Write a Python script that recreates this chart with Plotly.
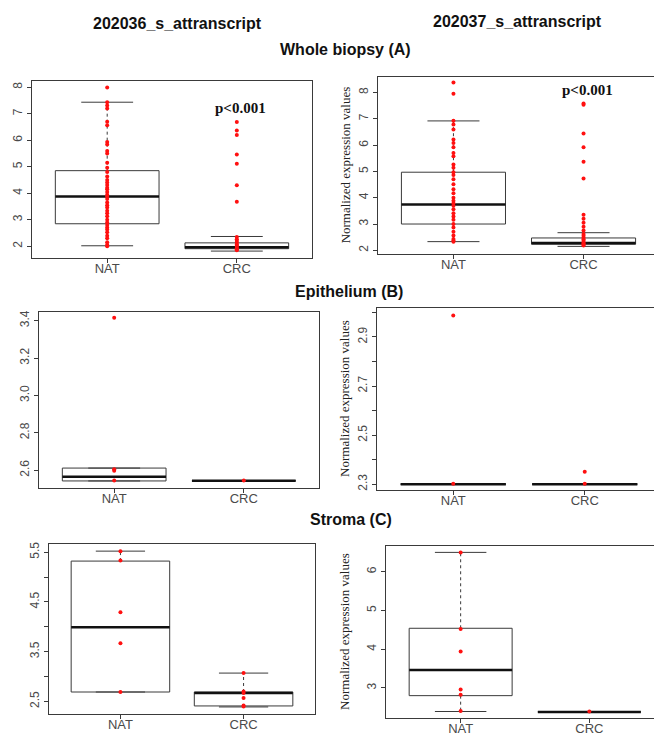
import plotly.graph_objects as go

W, H = 662, 735

groups = ["NAT", "CRC"]
positions = [1, 2]

# ---------------- Whole biopsy (A), 202036_s_at ----------------
wb36_q1 = [2.85, 1.91]
wb36_med = [3.88, 1.96]
wb36_q3 = [4.85, 2.13]
wb36_lo = [2.02, 1.82]
wb36_hi = [7.43, 2.37]
wb36_nat = [7.98, 7.43, 7.31, 7.19, 6.69, 6.56, 5.93, 5.84, 5.59, 5.50, 5.15, 4.96,
            4.80, 4.63, 4.50, 4.40, 4.31, 4.21, 4.15, 4.05, 3.94, 3.88, 3.78, 3.65,
            3.55, 3.46, 3.34, 3.25, 3.13, 3.00, 2.90, 2.80, 2.71, 2.63, 2.53, 2.40,
            2.30, 2.15, 2.06, 2.00]
wb36_crc = [6.68, 6.36, 6.19, 5.46, 5.11, 4.30, 3.68, 2.35, 2.27, 2.20, 2.13, 2.07,
            2.02, 1.98, 1.93, 1.89, 1.85]

# ---------------- Whole biopsy (A), 202037_s_at ----------------
wb37_q1 = [3.00, 2.23]
wb37_med = [3.74, 2.28]
wb37_q3 = [4.97, 2.47]
wb37_lo = [2.33, 2.15]
wb37_hi = [6.92, 2.67]
wb37_nat = [8.38, 7.95, 6.93, 6.78, 6.59, 6.21, 6.08, 5.92, 5.70, 5.58, 5.26, 5.14,
            4.97, 4.86, 4.70, 4.51, 4.32, 4.17, 4.00, 3.88, 3.79, 3.69, 3.56, 3.41,
            3.29, 3.16, 3.00, 2.87, 2.71, 2.56, 2.43, 2.37, 2.33]
wb37_crc = [7.58, 7.53, 6.44, 5.92, 5.37, 4.73, 3.35, 3.20, 3.05, 2.90, 2.75, 2.62,
            2.55, 2.48, 2.42, 2.36, 2.30, 2.26, 2.22, 2.18]

# ---------------- Epithelium (B), 202036_s_at ----------------
ep36_q1 = [2.542, 2.543]
ep36_med = [2.565, 2.543]
ep36_q3 = [2.611, 2.543]
ep36_lo = [2.542, 2.543]
ep36_hi = [2.611, 2.543]
ep36_nat = [3.416, 2.605, 2.597, 2.545]
ep36_crc = [2.545]

# ---------------- Epithelium (B), 202037_s_at ----------------
ep37_q1 = [2.30, 2.30]
ep37_med = [2.30, 2.30]
ep37_q3 = [2.30, 2.30]
ep37_lo = [2.30, 2.30]
ep37_hi = [2.30, 2.30]
ep37_nat = [2.988, 2.302]
ep37_crc = [2.351, 2.302]

# ---------------- Stroma (C), 202036_s_at ----------------
st36_q1 = [2.69, 2.41]
st36_med = [3.99, 2.67]
st36_q3 = [5.32, 2.69]
st36_lo = [2.69, 2.39]
st36_hi = [5.52, 3.07]
st36_nat = [5.52, 5.33, 4.29, 3.67, 2.69]
st36_crc = [3.07, 2.70, 2.67, 2.57, 2.42, 2.40]

# ---------------- Stroma (C), 202037_s_at ----------------
st37_q1 = [2.80, 2.38]
st37_med = [3.46, 2.38]
st37_q3 = [4.54, 2.38]
st37_lo = [2.39, 2.38]
st37_hi = [6.50, 2.38]
st37_nat = [6.50, 4.52, 3.94, 2.96, 2.82, 2.40]
st37_crc = [2.39]

# tick labels
wb_ticks = [2, 3, 4, 5, 6, 7, 8]
ep36_ticks = [2.6, 2.8, 3.0, 3.2, 3.4]
ep37_ticks = [2.3, 2.4, 2.5, 2.6, 2.7, 2.8, 2.9, 3.0]
ep37_labels = ["2.3", "", "2.5", "", "2.7", "", "2.9", ""]
st36_ticks = [2.5, 3.0, 3.5, 4.0, 4.5, 5.0, 5.5]
st36_labels = ["2.5", "", "3.5", "", "4.5", "", "5.5"]
st37_ticks = [3, 4, 5, 6]

gene_titles = ["202036_s_attranscript", "202037_s_attranscript"]
section_titles = ["Whole biopsy (A)", "Epithelium (B)", "Stroma (C)"]
ylab = "Normalized expression values"
pval_text = "p<0.001"
pval_y = [7.21, 8.08]

# ---------------- layout geometry (pixels) ----------------
panels = [
    dict(box=(24, 304, 71, 249), yr=(1.56, 8.24), tv=wb_ticks, tt=[str(t) for t in wb_ticks],
         data=(wb36_q1, wb36_med, wb36_q3, wb36_lo, wb36_hi, [wb36_nat, wb36_crc])),
    dict(box=(370, 651, 67, 245), yr=(1.86, 8.60), tv=wb_ticks, tt=[str(t) for t in wb_ticks],
         data=(wb37_q1, wb37_med, wb37_q3, wb37_lo, wb37_hi, [wb37_nat, wb37_crc])),
    dict(box=(31, 311, 303, 480), yr=(2.504, 3.448), tv=ep36_ticks, tt=["%.1f" % t for t in ep36_ticks],
         data=(ep36_q1, ep36_med, ep36_q3, ep36_lo, ep36_hi, [ep36_nat, ep36_crc])),
    dict(box=(369, 653, 299, 482), yr=(2.276, 3.019), tv=ep37_ticks, tt=ep37_labels,
         data=(ep37_q1, ep37_med, ep37_q3, ep37_lo, ep37_hi, [ep37_nat, ep37_crc])),
    dict(box=(41, 307, 536, 707), yr=(2.246, 5.667), tv=st36_ticks, tt=st36_labels,
         data=(st36_q1, st36_med, st36_q3, st36_lo, st36_hi, [st36_nat, st36_crc])),
    dict(box=(378, 656, 538, 711), yr=(2.22, 6.67), tv=st37_ticks, tt=[str(t) for t in st37_ticks],
         data=(st37_q1, st37_med, st37_q3, st37_lo, st37_hi, [st37_nat, st37_crc])),
]

LINE = "#3a3a3a"
TXT = "#4a4a4a"
HW = 0.4   # half box width
CW = 0.2   # half cap width

fig = go.Figure()
layout = dict(width=W, height=H, margin=dict(l=0, r=0, t=0, b=0),
              paper_bgcolor="white", plot_bgcolor="white", showlegend=False,
              font=dict(family="Liberation Sans, Arial, sans-serif", color=TXT))
annotations = []

for k, p in enumerate(panels, start=1):
    xs = "x" if k == 1 else f"x{k}"
    ys = "y" if k == 1 else f"y{k}"
    q1, med, q3, lo, hi, pts = p["data"]
    bx, by, mx, my, wx, wy, cx, cy = [], [], [], [], [], [], [], []
    for i, pos in enumerate(positions):
        bx += [pos - HW, pos + HW, pos + HW, pos - HW, pos - HW, None]
        by += [q1[i], q1[i], q3[i], q3[i], q1[i], None]
        mx += [pos - HW, pos + HW, None]
        my += [med[i], med[i], None]
        wx += [pos, pos, None, pos, pos, None]
        wy += [q3[i], hi[i], None, q1[i], lo[i], None]
        cx += [pos - CW, pos + CW, None, pos - CW, pos + CW, None]
        cy += [hi[i], hi[i], None, lo[i], lo[i], None]
    fig.add_trace(go.Scatter(x=wx, y=wy, mode="lines", xaxis=xs, yaxis=ys,
                             line=dict(color=LINE, width=1, dash="dot"), hoverinfo="skip"))
    fig.add_trace(go.Scatter(x=cx, y=cy, mode="lines", xaxis=xs, yaxis=ys,
                             line=dict(color=LINE, width=1), hoverinfo="skip"))
    fig.add_trace(go.Scatter(x=bx, y=by, mode="lines", xaxis=xs, yaxis=ys,
                             line=dict(color=LINE, width=1), hoverinfo="skip"))
    fig.add_trace(go.Scatter(x=mx, y=my, mode="lines", xaxis=xs, yaxis=ys,
                             line=dict(color="#111111", width=2.5), hoverinfo="skip"))
    px_, py_ = [], []
    for i, pos in enumerate(positions):
        px_ += [pos] * len(pts[i])
        py_ += list(pts[i])
    fig.add_trace(go.Scatter(x=px_, y=py_, mode="markers", xaxis=xs, yaxis=ys,
                             marker=dict(color="#ff1010", size=4, line=dict(width=0))))

    x0, x1, y0, y1 = p["box"]
    xkey = "xaxis" if k == 1 else f"xaxis{k}"
    ykey = "yaxis" if k == 1 else f"yaxis{k}"
    layout[xkey] = dict(domain=[x0 / W, x1 / W], anchor=ys, range=[0.42, 2.58],
                        tickvals=positions, ticktext=groups, ticks="outside", ticklen=4,
                        tickcolor=LINE, showline=True, linecolor=LINE, linewidth=1, mirror=True,
                        showgrid=False, zeroline=False, fixedrange=True, ticklabelstandoff=-6,
                        tickfont=dict(size=13, color=TXT))
    layout[ykey] = dict(domain=[1 - y1 / H, 1 - y0 / H], anchor=xs, range=list(p["yr"]),
                        tickvals=p["tv"], ticktext=p["tt"], ticks="outside", ticklen=4,
                        tickcolor=LINE, showline=True, linecolor=LINE, linewidth=1, mirror=True,
                        showgrid=False, zeroline=False, tickangle=-90, fixedrange=True,
                        tickfont=dict(size=12, color=TXT))
    if k % 2 == 0:
        annotations.append(dict(text=ylab, textangle=-90, xref="paper", yref=f"{ys} domain",
                                x=337 / W, y=0.5, xanchor="center", yanchor="middle",
                                showarrow=False,
                                font=dict(family="Liberation Serif, Times New Roman, serif",
                                          size=13, color="#222222")))

# p-values
for k, yv in zip([1, 2], pval_y):
    xs = "x" if k == 1 else f"x{k}"
    ys = "y" if k == 1 else f"y{k}"
    annotations.append(dict(text="<b>%s</b>" % pval_text, xref=xs, yref=ys, x=2.03, y=yv,
                            showarrow=False, xanchor="center", yanchor="middle",
                            font=dict(family="Liberation Serif, Times New Roman, serif",
                                      size=15, color="#111111")))

# gene titles
for t, xc, yc in zip(gene_titles, [169, 509], [14, 12]):
    annotations.append(dict(text="<b>%s</b>" % t, xref="paper", yref="paper",
                            x=xc / W, y=1 - yc / H, xanchor="center", yanchor="middle",
                            showarrow=False, font=dict(size=16, color="#111111")))
# section titles
for t, xc, yc in zip(section_titles, [337, 341, 343], [40, 283, 512]):
    annotations.append(dict(text="<b>%s</b>" % t, xref="paper", yref="paper",
                            x=xc / W, y=1 - yc / H, xanchor="center", yanchor="middle",
                            showarrow=False, font=dict(size=16, color="#111111")))

layout["annotations"] = annotations
fig.update_layout(**layout)
fig.write_html("out.html")
